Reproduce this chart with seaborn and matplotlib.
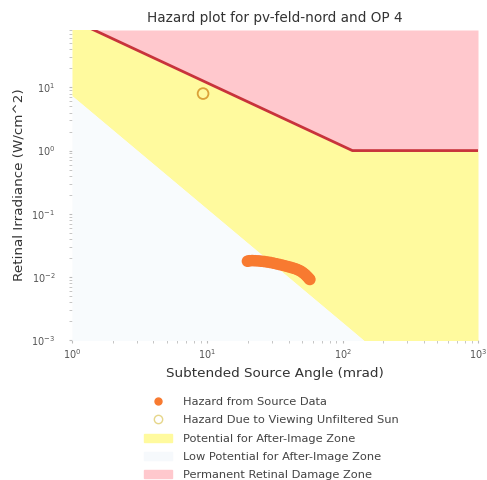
import numpy as np
import pandas as pd
import matplotlib
matplotlib.use("Agg")
import matplotlib.pyplot as plt
import seaborn as sns
from matplotlib.lines import Line2D
from matplotlib.patches import Patch

# zone boundaries (subtended angle in mrad, retinal irradiance in W/cm^2)
zone_angle = [1, 118, 1000]
burn_irr = [118, 1, 1]            # permanent retinal damage threshold
afterimage_irr = [7.4, 1.4e-3, 2.9e-5]  # after-image threshold

# glare hazard from source data
src_angle = [19.8, 20.5, 21.5, 22.6, 23.8, 25.0, 26.3, 27.7, 29.2, 30.8,
             32.4, 34.1, 35.9, 37.7, 39.6, 41.5, 43.4, 45.3, 47.2, 49.0,
             50.7, 52.3, 53.8, 55.2, 56.4, 57.2]
src_irr = [0.0177, 0.0180, 0.0181, 0.0180, 0.0179, 0.0177, 0.0175, 0.0172,
           0.0169, 0.0165, 0.0161, 0.0157, 0.0153, 0.0149, 0.0145, 0.0141,
           0.0137, 0.0133, 0.0128, 0.0123, 0.0117, 0.0111, 0.0105, 0.0099,
           0.0094, 0.0091]

# unfiltered sun
sun_angle = [9.3]
sun_irr = [8.0]

ymin, ymax = 1e-3, 10 ** 1.91

pink = "#ffc8cd"
yellow = "#fffa9e"
pale = "#f8fbfd"

sns.set_style("white")
fig = plt.figure(figsize=(4.87, 4.80), dpi=100)
ax = fig.add_axes([72 / 487, 1 - 340 / 480, 406 / 487, 310 / 480])
ax.set_xscale("log")
ax.set_yscale("log")

ax.fill_between(zone_angle, burn_irr, ymax, color=pink, lw=0)
ax.fill_between(zone_angle, afterimage_irr, burn_irr, color=yellow, lw=0)
ax.fill_between(zone_angle, ymin * 0.1, afterimage_irr, color=pale, lw=0)

burn = pd.DataFrame({"angle": zone_angle, "irr": burn_irr})
sns.lineplot(data=burn, x="angle", y="irr", ax=ax, color="#c8333b", lw=2)

src = pd.DataFrame({"angle": src_angle, "irr": src_irr})
sns.scatterplot(data=src, x="angle", y="irr", ax=ax, color="#f87a30",
                s=70, edgecolor="none", zorder=5)
sun = pd.DataFrame({"angle": sun_angle, "irr": sun_irr})
sns.scatterplot(data=sun, x="angle", y="irr", ax=ax, facecolor="none",
                edgecolor="#dba238", s=60, linewidth=1.3, zorder=5)

ax.set_xlim(1, 1000)
ax.set_ylim(ymin, ymax)
for s in ax.spines.values():
    s.set_visible(False)
ax.tick_params(which="both", length=2, color="#bbbbbb", labelsize=7,
               labelcolor="#555555", left=True, bottom=True)
ax.tick_params(axis="y", pad=10)
ax.set_title("Hazard plot for pv-feld-nord and OP 4", fontsize=9.8,
             color="#333333", pad=6)
ax.set_xlabel("Subtended Source Angle (mrad)", fontsize=9.7, color="#333333")
ax.set_ylabel("Retinal Irradiance (W/cm^2)", fontsize=9.7, color="#333333")

handles = [
    Line2D([], [], ls="", marker="o", color="#f87a30", markersize=5),
    Line2D([], [], ls="", marker="o", markerfacecolor="none",
           markeredgecolor="#e6d68a", markersize=6),
    Patch(color=yellow),
    Patch(color="#f6f9fc"),
    Patch(color=pink),
]
labels = ["Hazard from Source Data",
          "Hazard Due to Viewing Unfiltered Sun",
          "Potential for After-Image Zone",
          "Low Potential for After-Image Zone",
          "Permanent Retinal Damage Zone"]
fig.legend(handles, labels, loc="upper left", frameon=False, fontsize=8.2,
           bbox_to_anchor=(134 / 487, 1 - 387 / 480), labelspacing=0.72,
           handlelength=2.4, handletextpad=1.0, labelcolor="#444444")

fig.savefig("out.png", dpi=100)
